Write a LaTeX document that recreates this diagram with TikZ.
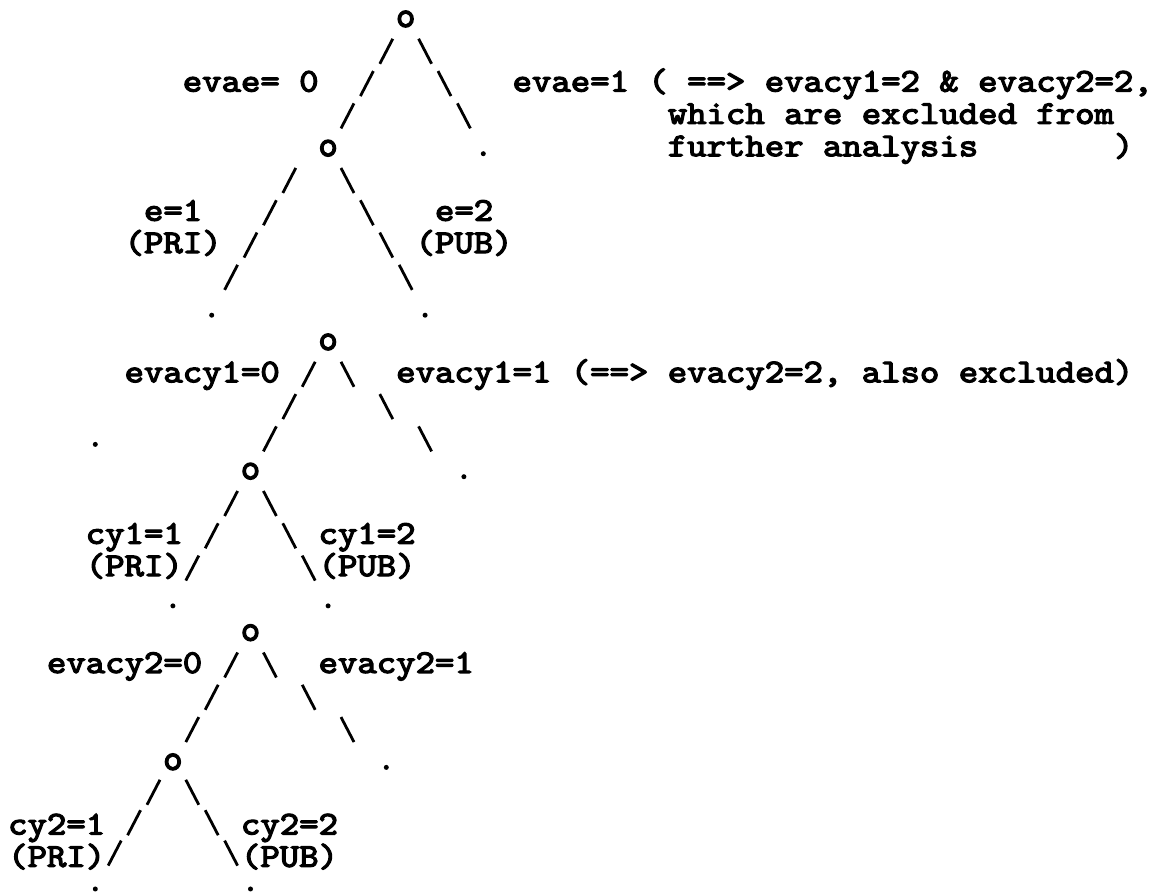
\documentclass[tikz,border=0pt]{standalone}
\usepackage{fontspec}
\usepackage{graphicx}
\newfontfamily\mono{lmmono10-regular.otf}[FakeBold=3.5]
\usetikzlibrary{calc}
% grid: column centre, column left edge, baseline of row, leaf-dot centre of row
\newcommand\gx[1]{{17.7+19.4*(#1)}}
\newcommand\lx[1]{{8+19.4*(#1)}}
\newcommand\by[1]{{867-32.3*(#1)}}
\newcommand\dy[1]{{869.5-32.3*(#1)}}
% labels are set a little lower than the font's natural height (as the typewriter face of the original)
\newcommand\vs[1]{\scalebox{1}[0.9]{#1}}
% branch drawn as a row of slash strokes between two named points
% #1 start, #2 end, #3 rows, #4 rows-1, #5 direction (1 = \, -1 = /)
\newcommand\branch[5]{%
  \foreach \i in {1,...,#4}{%
    \coordinate (tmp) at ($(#1)!{\i/#3}!(#2)$);
    \draw[br] ([shift={({-(#5)*6.5},12.5)}]tmp) -- ([shift={({(#5)*6.5},-12.5)}]tmp);
  }}
\begin{document}
\begin{tikzpicture}[x=1pt,y=1pt,
  txt/.style={font=\mono\fontsize{36.95pt}{40pt}\selectfont, inner sep=0pt},
  tn/.style={txt, anchor=base, text height=16pt, text depth=0pt},
  leaf/.style={circle, fill, inner sep=0pt, minimum size=5pt},
  lab/.style={txt, anchor=base west, text height=21pt, text depth=6pt},
  br/.style={line width=2.8pt, line cap=butt}]
\useasboundingbox (0,0) rectangle (1152,894);

% tree nodes: o = branching point, dot = leaf
\node[tn] (A) at (\gx{20},\by{0}) {o};
\node[tn] (B) at (\gx{16},\by{4}) {o};
\node[leaf] (C) at (\gx{24},\dy{4}) {};
\node[leaf] (D) at (\gx{10},\dy{9}) {};
\node[leaf] (E) at (\gx{21},\dy{9}) {};
\node[tn] (F) at (\gx{16},\by{10}) {o};
\node[tn] (G) at (\gx{12},\by{14}) {o};
\node[leaf] (H) at (\gx{23},\dy{14}) {};
\node[leaf] (S) at (\gx{4},\dy{13}) {};
\node[leaf] (I) at (\gx{8},\dy{18}) {};
\node[leaf] (J) at (\gx{16},\dy{18}) {};
\node[tn] (K) at (\gx{12},\by{19}) {o};
\node[tn] (L) at (\gx{8},\by{23}) {o};
\node[leaf] (M) at (\gx{19},\dy{23}) {};
\node[leaf] (N) at (\gx{4},5) {};
\node[leaf] (P) at (\gx{12},5) {};

% labels
\node[lab] (l1) at (\lx{9},\by{2}) {\vs{evae= 0}};
\node[lab] (r1) at (\lx{26},\by{2}) {\vs{evae=1 ( ==> evacy1=2 \& evacy2=2,}};
\node[lab] (r1b) at (\lx{34},\by{3}) {\vs{which are excluded from}};
\node[lab] (r1c) at (\lx{34},\by{4}) {\vs{further analysis~~~~~~~)}};
\node[lab] (l2a) at (\lx{7},\by{6}) {\vs{e=1}};
\node[lab] (l2b) at (\lx{6},\by{7}) {\vs{(PRI)}};
\node[lab] (r2a) at (\lx{22},\by{6}) {\vs{e=2}};
\node[lab] (r2b) at (\lx{21},\by{7}) {\vs{(PUB)}};
\node[lab] (l3) at (\lx{6},\by{11}) {\vs{evacy1=0}};
\node[lab] (r3) at (\lx{20},\by{11}) {\vs{evacy1=1 (==> evacy2=2, also excluded)}};
\node[lab] (l4a) at (\lx{4},\by{16}) {\vs{cy1=1}};
\node[lab] (l4b) at (\lx{4},\by{17}) {\vs{(PRI)}};
\node[lab] (r4a) at (\lx{16},\by{16}) {\vs{cy1=2}};
\node[lab] (r4b) at (\lx{16},\by{17}) {\vs{(PUB)}};
\node[lab] (l5) at (\lx{2},\by{20}) {\vs{evacy2=0}};
\node[lab] (r5) at (\lx{16},\by{20}) {\vs{evacy2=1}};
\node[lab] (l6a) at (\lx{0},\by{25}) {\vs{cy2=1}};
\node[lab] (l6b) at (\lx{0},\by{26}) {\vs{(PRI)}};
\node[lab] (r6a) at (\lx{12},\by{25}) {\vs{cy2=2}};
\node[lab] (r6b) at (\lx{12},\by{26}) {\vs{(PUB)}};

% branch end points: leaves are aimed at the height of the slash strokes,
% and three branches start one column left of their node
\foreach \n in {C,D,E,H,I,J,M,N,P}
  \coordinate (\n t) at ([yshift=5.5pt]\n.center);
\coordinate (B0) at ([xshift=-19.4pt]B.center);
\coordinate (F0) at ([xshift=-19.4pt]F.center);
\coordinate (K0) at ([xshift=-19.4pt]K.center);

% branches
\branch{A}{B}{4}{3}{-1}
\branch{A}{Ct}{4}{3}{1}
\branch{B0}{Dt}{5}{4}{-1}
\branch{B}{Et}{5}{4}{1}
\branch{F}{G}{4}{3}{-1}
\branch{F0}{Ht}{4}{3}{1}
\branch{G}{It}{4}{3}{-1}
\branch{G}{Jt}{4}{3}{1}
\branch{K}{L}{4}{3}{-1}
\branch{K0}{Mt}{4}{3}{1}
\branch{L}{Nt}{4}{3}{-1}
\branch{L}{Pt}{4}{3}{1}
\end{tikzpicture}
\end{document}
